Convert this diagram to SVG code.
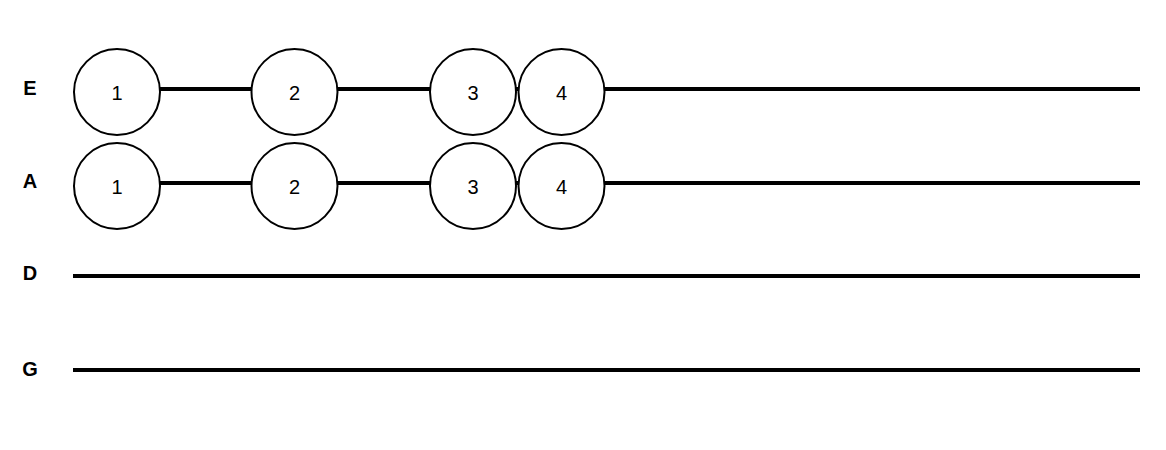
<svg xmlns="http://www.w3.org/2000/svg" width="1166" height="450" viewBox="0 0 1166 450">
<style>
.s{stroke:#000;stroke-width:4;fill:none}
.c{fill:#fff;stroke:#000;stroke-width:2}
.t{font-family:"Liberation Sans",Arial,sans-serif;font-size:20px;text-anchor:middle;dominant-baseline:central}
.l{font-family:"Liberation Sans",Arial,sans-serif;font-size:20px;font-weight:bold;text-anchor:middle;dominant-baseline:central}
</style>
<rect width="1166" height="450" fill="#fff"/>
<g id="connectors">
<line class="s" x1="160" y1="89" x2="1140" y2="89"/>
<line class="s" x1="160" y1="183" x2="1140" y2="183"/>
<line class="s" x1="73" y1="276" x2="1140" y2="276"/>
<line class="s" x1="73" y1="370" x2="1140" y2="370"/>
</g>
<g id="labels">
<text class="l" x="30" y="88">E</text>
<text class="l" x="30" y="181">A</text>
<text class="l" x="30" y="273">D</text>
<text class="l" x="30" y="369">G</text>
</g>
<g id="E1"><circle class="c" cx="117" cy="92" r="43"/><text class="t" x="117" y="93">1</text></g>
<g id="E2"><circle class="c" cx="294.5" cy="92" r="43"/><text class="t" x="294.5" y="93">2</text></g>
<g id="E3"><circle class="c" cx="473" cy="92" r="43"/><text class="t" x="473" y="93">3</text></g>
<g id="E4"><circle class="c" cx="561.5" cy="92" r="43"/><text class="t" x="561.5" y="93">4</text></g>
<g id="A1"><circle class="c" cx="117" cy="186" r="43"/><text class="t" x="117" y="187">1</text></g>
<g id="A2"><circle class="c" cx="294.5" cy="186" r="43"/><text class="t" x="294.5" y="187">2</text></g>
<g id="A3"><circle class="c" cx="473" cy="186" r="43"/><text class="t" x="473" y="187">3</text></g>
<g id="A4"><circle class="c" cx="561.5" cy="186" r="43"/><text class="t" x="561.5" y="187">4</text></g>
</svg>
